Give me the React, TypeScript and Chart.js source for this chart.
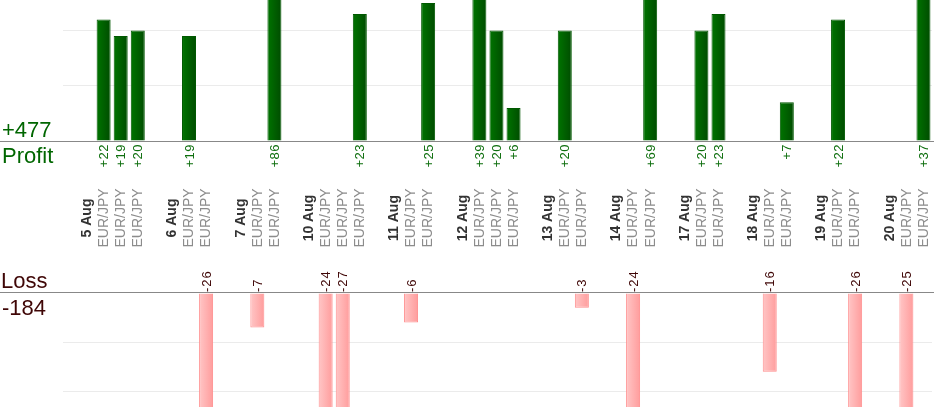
import { useEffect, useRef } from "react";
import { Chart, registerables } from "chart.js";

Chart.register(...registerables);

// one slot per day header, per trade, plus an empty spacer after each day
const labels = [
  "5 Aug", "EUR/JPY", "EUR/JPY", "EUR/JPY", "",
  "6 Aug", "EUR/JPY", "EUR/JPY", "",
  "7 Aug", "EUR/JPY", "EUR/JPY", "",
  "10 Aug", "EUR/JPY", "EUR/JPY", "EUR/JPY", "",
  "11 Aug", "EUR/JPY", "EUR/JPY", "",
  "12 Aug", "EUR/JPY", "EUR/JPY", "EUR/JPY", "",
  "13 Aug", "EUR/JPY", "EUR/JPY", "",
  "14 Aug", "EUR/JPY", "EUR/JPY", "",
  "17 Aug", "EUR/JPY", "EUR/JPY", "",
  "18 Aug", "EUR/JPY", "EUR/JPY", "",
  "19 Aug", "EUR/JPY", "EUR/JPY", "",
  "20 Aug", "EUR/JPY", "EUR/JPY",
];

const profit = [
  null, 22, 19, 20, null,
  null, 19, null, null,
  null, null, 86, null,
  null, null, null, 23, null,
  null, null, 25, null,
  null, 39, 20, 6, null,
  null, 20, null, null,
  null, null, 69, null,
  null, 20, 23, null,
  null, null, 7, null,
  null, 22, null, null,
  null, null, 37,
];

const loss = [
  null, null, null, null, null,
  null, null, -26, null,
  null, -7, null, null,
  null, -24, -27, null, null,
  null, -6, null, null,
  null, null, null, null, null,
  null, null, -3, null,
  null, -24, null, null,
  null, null, null, null,
  null, -16, null, null,
  null, null, -26, null,
  null, -25, null,
];

const profitTicks = [0, 10, 20];
const lossTicks = [0, -10, -20];

const FONT = '"Liberation Sans", Arial, sans-serif';
const PLOT_H = 407;
const PROFIT_ZERO = 141;
const PROFIT_PX = 5.52;
const LOSS_ZERO = 293;
const LOSS_PX = 4.92;
const BAR_PCT = 0.82;
const CAT_Y = 218;

const totalProfit = profit.reduce((s: number, v) => s + (v ?? 0), 0);
const totalLoss = loss.reduce((s: number, v) => s + (v ?? 0), 0);

function barGradient(ctx: any, from: string, to: string) {
  const chart = ctx.chart;
  const xs = chart.scales.x;
  if (!xs || !chart.chartArea || ctx.dataIndex === undefined) return from;
  const cx = xs.getPixelForValue(ctx.dataIndex);
  const half = ((xs.width / labels.length) * BAR_PCT) / 2;
  const g = chart.ctx.createLinearGradient(cx - half, 0, cx + half, 0);
  g.addColorStop(0, from);
  g.addColorStop(1, to);
  return g;
}

const gridColor = (ctx: any) => (ctx.tick && ctx.tick.value !== 0 ? "#ebebeb" : "rgba(0,0,0,0)");

const textPlugin = {
  id: "pnlText",
  afterDraw(chart: any) {
    const { ctx, scales } = chart;
    const xs = scales.x;
    const p0 = Math.round(scales.yP.getPixelForValue(0));
    const l0 = Math.round(scales.yL.getPixelForValue(0));
    ctx.save();

    // zero lines across the whole width
    ctx.strokeStyle = "#888888";
    ctx.lineWidth = 1;
    ctx.beginPath();
    ctx.moveTo(0, p0 + 0.5);
    ctx.lineTo(chart.width, p0 + 0.5);
    ctx.moveTo(0, l0 - 0.5);
    ctx.lineTo(chart.width, l0 - 0.5);
    ctx.stroke();

    // totals on the left
    ctx.font = `22px ${FONT}`;
    ctx.textAlign = "left";
    ctx.textBaseline = "alphabetic";
    ctx.fillStyle = "#006600";
    ctx.fillText("+" + totalProfit, 2, p0 - 4);
    ctx.fillText("Profit", 2, p0 + 22);
    ctx.fillStyle = "#3f0606";
    ctx.fillText("Loss", 1, l0 - 5);
    ctx.fillText(String(totalLoss), 2, l0 + 22);

    const vertical = (text: string, x: number, y: number, align: CanvasTextAlign) => {
      ctx.save();
      ctx.translate(x, y);
      ctx.rotate(-Math.PI / 2);
      ctx.textAlign = align;
      ctx.textBaseline = "middle";
      ctx.fillText(text, 0, 0);
      ctx.restore();
    };

    labels.forEach((lab, i) => {
      const x = xs.getPixelForValue(i);
      if (lab) {
        const isDay = lab !== "EUR/JPY";
        ctx.font = isDay ? `bold 14px ${FONT}` : `14px ${FONT}`;
        ctx.fillStyle = isDay ? "#333333" : "#8c8c8c";
        (ctx as any).letterSpacing = "0px";
        vertical(lab, x + 0.5, CAT_Y, "center");
      }
      const p = profit[i];
      if (p !== null) {
        ctx.font = `13px ${FONT}`;
        (ctx as any).letterSpacing = "0.5px";
        ctx.fillStyle = "#0f6f0f";
        vertical("+" + p, x + 1, p0 + 3, "right");
      }
      const l = loss[i];
      if (l !== null) {
        ctx.font = `13px ${FONT}`;
        (ctx as any).letterSpacing = "1px";
        ctx.fillStyle = "#3f0606";
        vertical(String(l), x + 1, l0 - 1, "left");
      }
    });
    ctx.restore();
  },
};

export default function App() {
  const canvasRef = useRef<HTMLCanvasElement | null>(null);
  const chartRef = useRef<Chart | null>(null);

  useEffect(() => {
    if (!canvasRef.current) return;
    if (chartRef.current) chartRef.current.destroy();

    chartRef.current = new Chart(canvasRef.current, {
      type: "bar",
      data: {
        labels,
        datasets: [
          {
            label: "Profit",
            data: profit,
            yAxisID: "yP",
            backgroundColor: (c: any) => barGradient(c, "#007400", "#004c00"),
            borderColor: "#005800",
            borderWidth: 1,
          },
          {
            label: "Loss",
            data: loss,
            yAxisID: "yL",
            backgroundColor: (c: any) => barGradient(c, "#ffc6c6", "#ff9c9c"),
            borderColor: "#ff8e8e",
            borderWidth: 1,
          },
        ],
      },
      options: {
        responsive: false,
        animation: false,
        events: [],
        layout: { padding: { left: 78, right: 2, top: 0, bottom: 420 - PLOT_H } },
        datasets: { bar: { grouped: false, barPercentage: BAR_PCT, categoryPercentage: 1 } },
        plugins: { legend: { display: false }, tooltip: { enabled: false } },
        scales: {
          x: { display: false },
          yP: {
            type: "linear",
            position: "left",
            min: -(PLOT_H - PROFIT_ZERO) / PROFIT_PX,
            max: PROFIT_ZERO / PROFIT_PX,
            afterBuildTicks: (s: any) => {
              s.ticks = profitTicks.map((v) => ({ value: v }));
            },
            afterFit: (s: any) => {
              s.width = 0;
            },
            ticks: { display: false },
            border: { display: false },
            grid: { color: gridColor, tickColor: gridColor, drawTicks: true, tickLength: 15 },
          },
          yL: {
            type: "linear",
            position: "left",
            min: -(PLOT_H - LOSS_ZERO) / LOSS_PX,
            max: LOSS_ZERO / LOSS_PX,
            afterBuildTicks: (s: any) => {
              s.ticks = lossTicks.map((v) => ({ value: v }));
            },
            afterFit: (s: any) => {
              s.width = 0;
            },
            ticks: { display: false },
            border: { display: false },
            grid: { color: gridColor, tickColor: gridColor, drawTicks: true, tickLength: 15 },
          },
        },
      },
      plugins: [textPlugin],
    } as any);

    return () => {
      if (chartRef.current) {
        chartRef.current.destroy();
        chartRef.current = null;
      }
    };
  }, []);

  return (
    <div style={{ position: "fixed", left: 0, top: 0, width: 934, height: 420, background: "#fff" }}>
      <canvas ref={canvasRef} width={934} height={420} style={{ width: 934, height: 420 }} />
    </div>
  );
}
